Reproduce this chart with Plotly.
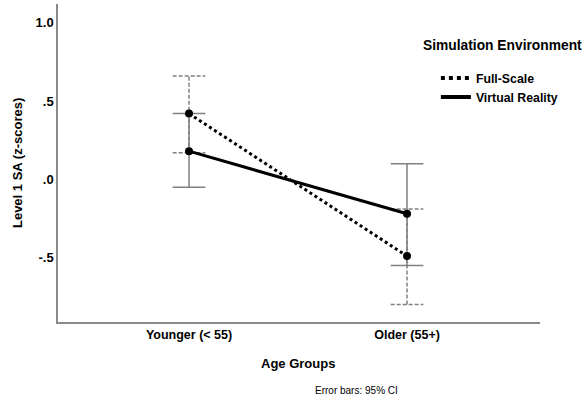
import plotly.graph_objects as go

# ---- data ----
groups = ["Younger (< 55)", "Older (55+)"]
fs_mean = [0.42, -0.49]
fs_lower = [0.17, -0.80]
fs_upper = [0.66, -0.19]
vr_mean = [0.18, -0.22]
vr_lower = [-0.05, -0.55]
vr_upper = [0.42, 0.10]
y_tickvals = [-0.5, 0.0, 0.5, 1.0]
y_ticktext = ["-.5", ".0", ".5", "1.0"]

FONT = "Liberation Sans, Arial, sans-serif"
xpos = list(range(len(groups)))
CAP = 0.075
ERR_COLOR = "#808080"


def err_path(lower, upper):
    xs, ys = [], []
    for x, lo, hi in zip(xpos, lower, upper):
        xs += [x, x, None, x - CAP, x + CAP, None, x - CAP, x + CAP, None]
        ys += [lo, hi, None, hi, hi, None, lo, lo, None]
    return xs, ys


fig = go.Figure()

ex, ey = err_path(fs_lower, fs_upper)
fig.add_trace(go.Scatter(x=ex, y=ey, mode="lines", showlegend=False, hoverinfo="skip",
                         line=dict(color=ERR_COLOR, width=1.5, dash="4px,2px")))
ex, ey = err_path(vr_lower, vr_upper)
fig.add_trace(go.Scatter(x=ex, y=ey, mode="lines", showlegend=False, hoverinfo="skip",
                         line=dict(color=ERR_COLOR, width=1.5)))

fig.add_trace(go.Scatter(x=xpos, y=fs_mean, mode="lines+markers", showlegend=False,
                         line=dict(color="black", width=3, dash="dot"),
                         marker=dict(color="black", size=8)))
fig.add_trace(go.Scatter(x=xpos, y=vr_mean, mode="lines+markers", showlegend=False,
                         line=dict(color="black", width=3),
                         marker=dict(color="black", size=8)))

# legend-only entries
fig.add_trace(go.Scatter(x=[None], y=[None], mode="lines", name="Full-Scale",
                         line=dict(color="black", width=4, dash="dot")))
fig.add_trace(go.Scatter(x=[None], y=[None], mode="lines", name="Virtual Reality",
                         line=dict(color="black", width=4)))

fig.update_layout(
    width=584, height=401,
    margin=dict(l=58, r=44, t=4, b=79),
    paper_bgcolor="white", plot_bgcolor="white",
    font=dict(family=FONT, color="black"),
    legend=dict(x=0.784, y=0.813, xanchor="left", yanchor="top",
                bgcolor="rgba(0,0,0,0)", tracegroupgap=0,
                font=dict(family=FONT, size=12.3, weight="bold", color="black")),
    xaxis=dict(range=[-0.601, 1.61], tickvals=xpos, ticktext=groups,
               showgrid=False, zeroline=False, showline=True, linecolor="#8a8a8a",
               linewidth=1.5, ticks="",
               tickfont=dict(family=FONT, size=12.5, weight="bold", color="black")),
    yaxis=dict(range=[-0.911, 1.12], tickvals=y_tickvals, ticktext=y_ticktext,
               showgrid=False, zeroline=False, showline=True, linecolor="#8a8a8a",
               linewidth=1.5, ticks="",
               tickfont=dict(family=FONT, size=13, weight="bold", color="black")),
    annotations=[
        dict(text="Level 1 SA (z-scores)", textangle=-90, xref="paper", yref="paper",
             x=-0.085, y=0.5, xanchor="center", yanchor="middle", showarrow=False,
             font=dict(family=FONT, size=13, weight="bold")),
        dict(text="Age Groups", xref="paper", yref="paper",
             x=(298 - 58) / 482, y=-(363 - 322) / 318, xanchor="center", yanchor="middle",
             showarrow=False, font=dict(family=FONT, size=13, weight="bold")),
        dict(text="Error bars: 95% CI", xref="paper", yref="paper",
             x=(356 - 58) / 482, y=-(390 - 322) / 318, xanchor="center", yanchor="middle",
             showarrow=False, font=dict(family=FONT, size=10)),
        dict(text="Simulation Environment", xref="paper", yref="paper",
             x=(421 - 58) / 482, y=(322 - 46) / 318, xanchor="left", yanchor="middle",
             showarrow=False, font=dict(family=FONT, size=13.8, weight="bold")),
    ],
)

fig.write_html("out.html", config={"displayModeBar": False},
               post_script="document.body.style.margin='0';")
